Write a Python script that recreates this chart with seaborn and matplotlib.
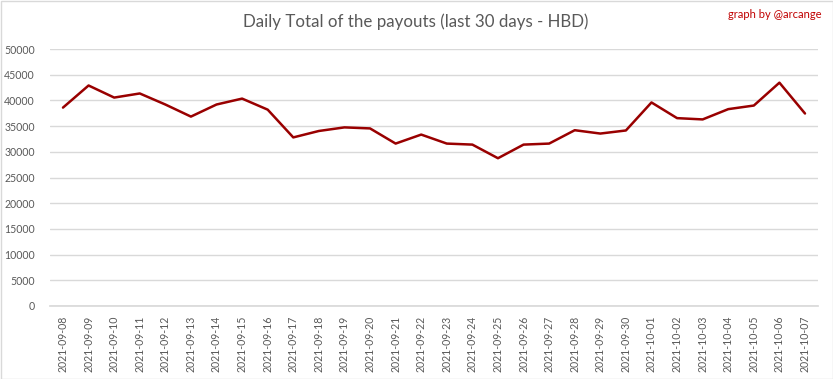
import matplotlib
matplotlib.use("Agg")
import matplotlib.pyplot as plt
import seaborn as sns
import pandas as pd
from matplotlib.patches import Rectangle

dates = ["2021-09-08", "2021-09-09", "2021-09-10", "2021-09-11", "2021-09-12",
         "2021-09-13", "2021-09-14", "2021-09-15", "2021-09-16", "2021-09-17",
         "2021-09-18", "2021-09-19", "2021-09-20", "2021-09-21", "2021-09-22",
         "2021-09-23", "2021-09-24", "2021-09-25", "2021-09-26", "2021-09-27",
         "2021-09-28", "2021-09-29", "2021-09-30", "2021-10-01", "2021-10-02",
         "2021-10-03", "2021-10-04", "2021-10-05", "2021-10-06", "2021-10-07"]
payouts = [38600, 42900, 40550, 41350, 39200, 36850, 39200, 40350, 38200, 32800,
           34050, 34750, 34550, 31600, 33350, 31600, 31400, 28750, 31400, 31600,
           34200, 33550, 34150, 39600, 36550, 36300, 38300, 39000, 43450, 37450]
yticks = [0, 5000, 10000, 15000, 20000, 25000, 30000, 35000, 40000, 45000, 50000]

df = pd.DataFrame({"date": dates, "payout": payouts, "idx": range(len(dates))})

sns.set_theme(style="white")
plt.rcParams['font.family'] = ['Lato', 'DejaVu Sans']

fig = plt.figure(figsize=(8.33, 3.79), dpi=100)
ax = fig.add_axes([50.2 / 833, 1 - 306 / 379, (817.8 - 50.2) / 833, (306 - 49) / 379])

sns.lineplot(data=df, x="idx", y="payout", ax=ax, color="#990000", linewidth=1.8)

ax.set_xlim(-0.5, len(dates) - 0.5)
ax.set_ylim(0, 50000)
ax.set_yticks(yticks)
ax.set_yticklabels([str(v) for v in yticks])
ax.set_xticks(range(len(dates)))
ax.set_xticklabels(dates, rotation=90)
ax.tick_params(axis="both", colors="#595959", labelsize=7.6, length=0)
ax.tick_params(axis="y", pad=11)
ax.tick_params(axis="x", pad=7)
ax.yaxis.grid(True, color="#d9d9d9", linewidth=1)
ax.set_axisbelow(True)
for s in ["top", "right", "left"]:
    ax.spines[s].set_visible(False)
ax.spines["bottom"].set_color("#d9d9d9")
ax.set_xlabel("")
ax.set_ylabel("")

fig.text(416 / 833, 1 - 22 / 379, "Daily Total of the payouts (last 30 days - HBD)",
         ha="center", va="center", fontsize=12.2, color="#595959")
fig.text(821 / 833, 1 - 15 / 379, "graph by @arcange", ha="right", va="center",
         fontsize=8, color="#c00000")

fig.patches.append(Rectangle((0.5 / 833, 0.5 / 379), 1 - 1 / 833, 1 - 1 / 379,
                             transform=fig.transFigure, fill=False,
                             edgecolor="#d9d9d9", linewidth=1))

fig.savefig("out.png", dpi=100)
